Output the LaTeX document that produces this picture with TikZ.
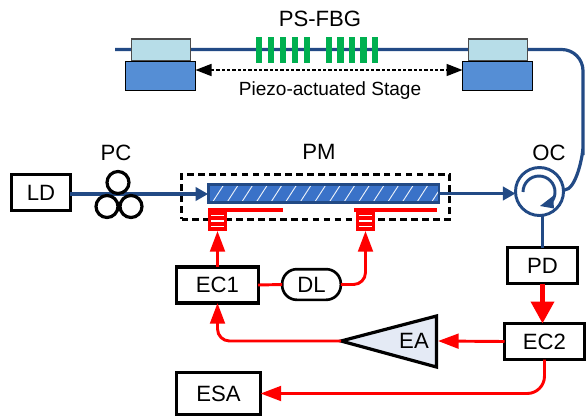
\documentclass[tikz,border=0pt]{standalone}
\usepackage{fontspec}
\setmainfont{Liberation Sans}
\usetikzlibrary{arrows.meta,calc}
\definecolor{fiber}{HTML}{224A85}
\definecolor{lightb}{HTML}{B7DDE8}
\definecolor{darkb}{HTML}{558ED5}
\definecolor{grn}{HTML}{00B050}
\definecolor{modb}{HTML}{3A72C8}
\definecolor{eafill}{HTML}{E4EAF5}
\tikzset{
  x=0.75pt,y=-0.75pt,
  lab/.style={font=\fontsize{16.6}{16.6}\selectfont,inner sep=0pt,outer sep=0pt},
  smalllab/.style={font=\fontsize{14.3}{16}\selectfont,inner sep=0pt,outer sep=0pt},
  blockbox/.style={draw=black,line width=2.4pt,fill=white,outer sep=0pt,inner sep=0pt,font=\fontsize{16.6}{16.6}\selectfont},
  holdertop/.style={draw=black!70,line width=0.9pt,fill=lightb,outer sep=0pt,inner sep=0pt,minimum width=44.5pt,minimum height=16.5pt},
  holderbase/.style={draw=black,line width=1.1pt,fill=darkb,outer sep=0pt,inner sep=0pt,minimum width=52.5pt,minimum height=22pt},
  fiberline/.style={draw=fiber,line width=2.4pt},
  fiberarrow/.style={draw=fiber,line width=2.4pt,-{Triangle[width=10pt,length=9.5pt,fill=fiber]}},
  redline/.style={draw=red,line width=2.2pt},
  redarrow/.style={draw=red,line width=2.2pt,rounded corners=9pt,-{Triangle[width=11pt,length=15.5pt,fill=red]}},
  redbig/.style={draw=red,line width=3.6pt,-{Triangle[width=17pt,length=16.5pt,fill=red]}},
  stagearrow/.style={draw=black,line width=1.2pt,dash pattern=on 2.4pt off 1.6pt,{Triangle[width=9pt,length=12pt,fill=black]}-{Triangle[width=9pt,length=12pt,fill=black]}},
  fbgbar/.style={fill=grn,draw=none,minimum width=4.9pt,minimum height=20pt,inner sep=0pt,outer sep=0pt},
  pcring/.style={circle,draw=black,line width=2.4pt,fill=none,minimum size=16.5pt,inner sep=0pt,outer sep=0pt},
  elec/.style={fill=red,draw=none,minimum width=14.2pt,minimum height=14.2pt,inner sep=0pt,outer sep=0pt},
  elecbar/.style={fill=red,draw=none,minimum height=3.4pt,inner sep=0pt,outer sep=0pt},
}
\begin{document}
\begin{tikzpicture}
\useasboundingbox (0,0) rectangle (586,419);
% anchors for the top fibre
\node[circle,draw=fiber,line width=2.2pt,fill=white,minimum size=36pt,inner sep=0pt,outer sep=0pt] (oc) at (539.5,191.5) {};
\coordinate (ftl) at (115,49.5);
\coordinate (ftc) at (583,49.5);
\coordinate (focout) at (564.5,190);
\draw[fiberline,rounded corners=16pt] (ftl) -- (ftc) -- ($(ftc)+(0,118)$) to[out=90,in=0] (focout);
% FBG
\foreach \n/\xx in {a/259,b/271,c/283,d/295,e/307,f/329,g/340.5,h/352,i/363.5,j/375}
  \node[fbgbar] (bar\n) at (\xx,50) {};
% holders
\node[holdertop] (h1t) at (161,50) {};
\node[holderbase] (h1b) at (160.5,76) {};
\node[holdertop] (h2t) at (498,50) {};
\node[holderbase] (h2b) at (497.5,76) {};
\draw[stagearrow] (h1b.east |- 0,70) -- (h2b.west |- 0,70);
\node[lab] (fbglab) at (320,19) {PS-FBG};
\node[smalllab] (stagelab) at (330,91) {Piezo-actuated Stage};
% PM
\node[draw=black,line width=2.3pt,dash pattern=on 5pt off 3.2pt,minimum width=201pt,minimum height=33.5pt,outer sep=0pt,inner sep=0pt] (pmbox) at (315.5,197) {};
\node[draw=fiber,line width=2pt,fill=modb,minimum width=173pt,minimum height=13.5pt,outer sep=0pt,inner sep=0pt] (mod) at (323.5,193.5) {};
\begin{scope}
\clip (mod.south west) rectangle (mod.north east);
\foreach \q in {0,...,17}
  \draw[white!90!modb,line width=0.7pt] (198+14.6*\q,202) -- (209+14.6*\q,185);
\end{scope}
\draw[draw=fiber,line width=2pt] (mod.south west) rectangle (mod.north east);
\node[lab] (pmlab) at (319,152) {PM};
% electrodes
\node[elecbar,minimum width=56pt] (el1) at (245.5,210) {};
\node[elecbar,minimum width=62pt] (el2) at (395.5,210) {};
\foreach \n/\xx in {a/217.5,b/365.5}{
  \node[elec] (pad\n) at (\xx,221.5) {};
  \foreach \yy in {215.5,221,226.5}
    \fill[white] (\xx-6.5,\yy-0.8) rectangle (\xx+6.5,\yy+0.8);
}
% left part
\node[blockbox,minimum width=44pt,minimum height=27pt] (ld) at (41,192.5) {LD};
\draw[fiberarrow] (ld.east |- 0,194) -- (mod.west |- 0,194);
\node[pcring] (pc1) at (118,182.5) {};
\node[pcring] (pc2) at (107,206.5) {};
\node[pcring] (pc3) at (131,206.5) {};
\node[lab] (pclab) at (116,153) {PC};
% circulator
\draw[fiberarrow] (mod.east |- 0,193.5) -- (oc.west |- 0,193.5);
\draw[draw=fiber,line width=2.2pt] (523,192) arc[start angle=180,end angle=400,radius=16];
\fill[fiber] (540,206) -- (553,196) -- (554,208.5) -- cycle;
\node[lab] (oclab) at (549,153) {OC};
% lower blocks
\node[blockbox,minimum width=53pt,minimum height=27pt] (pd) at (542.5,265.5) {PD};
\draw[fiberline] (oc.south -| pd.center) -- (pd.north);
\node[blockbox,minimum width=60pt,minimum height=27pt] (ec2) at (544.5,341.5) {EC2};
\node[blockbox,minimum width=61pt,minimum height=27pt] (ec1) at (217.5,285) {EC1};
\node[blockbox,minimum width=63pt,minimum height=32pt] (esa) at (218.5,393.5) {ESA};
\node[draw=black,line width=2pt,fill=white,rounded corners=11pt,minimum width=44pt,minimum height=23pt,outer sep=0pt,inner sep=0pt,font=\fontsize{16.6}{16.6}\selectfont] (dl) at (311.5,284.5) {DL};
% amplifier
\coordinate (tip) at (341,341);
\draw[draw=black,line width=2.4pt,fill=eafill,line join=miter] (tip) -- (436.5,316) -- (436.5,367) -- cycle;
\node[lab] (ealab) at (414,341) {EA};
\coordinate (eaend) at (438,341);
% red connectors
\draw[redline] (ec1.east) -- (dl.west);
\draw[redarrow] (dl.east) -| (padb.south);
\draw[redarrow,rounded corners=0pt] (ec1.north) -- (pada.south);
\draw[redarrow] (tip) -| (ec1.south);
\draw[redarrow,rounded corners=0pt] (ec2.west) -- (eaend);
\draw[redarrow,rounded corners=13pt] (ec2.south) |- (esa.east);
\draw[redbig] (pd.south) -- (ec2.north -| pd.south);
\end{tikzpicture}
\end{document}
